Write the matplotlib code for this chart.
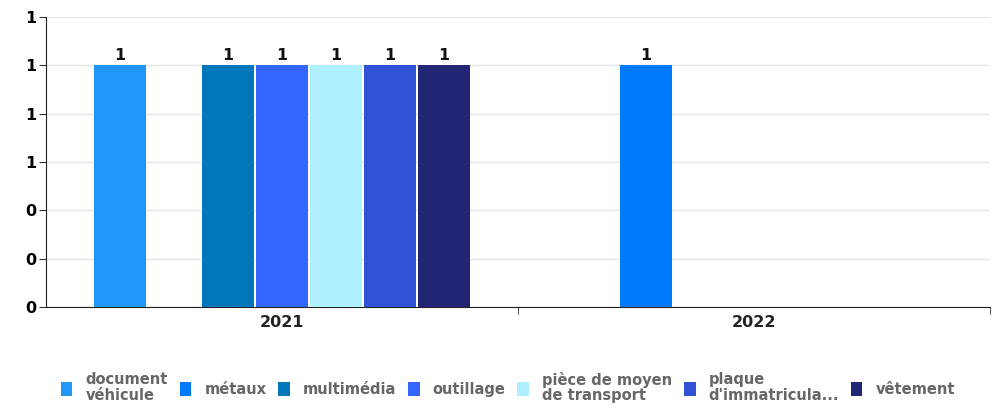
import matplotlib.pyplot as plt
import numpy as np
from matplotlib.ticker import FormatStrFormatter, FixedLocator

# data
years = ['2021', '2022']
series = ['document\nvéhicule', 'métaux', 'multimédia', 'outillage',
          'pièce de moyen\nde transport', "plaque\nd'immatricula...", 'vêtement']
values = [
    [1, 0],  # document véhicule
    [0, 1],  # métaux
    [1, 0],  # multimédia
    [1, 0],  # outillage
    [1, 0],  # pièce de moyen de transport
    [1, 0],  # plaque d'immatriculation
    [1, 0],  # vêtement
]
colors = ['#2196F9', '#0079FA', '#0277BB', '#3366FF', '#AEF0FF', '#2F52D6', '#232674']

fig = plt.figure(figsize=(9.96, 4.08), dpi=100)
ax = fig.add_axes([0.046, 0.248, 0.948, 0.71])

x = np.arange(len(years))
n = len(series)
w = 0.8 / n
for i, (name, vals) in enumerate(zip(series, values)):
    pos = x - 0.4 + w * (i + 0.5)
    bars = ax.bar(pos, vals, width=w * 0.97, color=colors[i], label=name, zorder=3)
    for b, v in zip(bars, vals):
        if v > 0:
            ax.text(b.get_x() + b.get_width() / 2, v + 0.012, str(v), ha='center', va='bottom',
                    fontsize=11.5, fontweight='bold', color='#111')

ax.set_xlim(-0.5, 1.5)
ax.set_ylim(0, 1.2)
ax.set_yticks(np.arange(0, 1.21, 0.2))
ax.yaxis.set_major_formatter(FormatStrFormatter('%.0f'))
ax.yaxis.grid(True, color='#e6e6e6', linewidth=1, zorder=0)
ax.set_xticks(x)
ax.set_xticklabels(years, fontsize=11.5, fontweight='bold', color='#222')
ax.xaxis.set_minor_locator(FixedLocator([0.5, 1.5]))
ax.tick_params(axis='x', which='major', length=0, pad=6)
ax.tick_params(axis='x', which='minor', length=5, direction='out', color='#333')
ax.tick_params(axis='y', length=5, color='#333', labelsize=11.5, pad=2)
for lab in ax.get_yticklabels():
    lab.set_fontweight('bold')
for s in ['top', 'right']:
    ax.spines[s].set_visible(False)
ax.spines['left'].set_color('#222')
ax.spines['bottom'].set_color('#222')

leg = fig.legend(loc='center', bbox_to_anchor=(0.51, 0.05), ncol=7, frameon=False,
                 handlelength=0.8, handleheight=1.1, handletextpad=0.9, columnspacing=0.8,
                 prop={'family': 'DejaVu Sans Condensed', 'size': 10.5, 'weight': 'bold'})
for t in leg.get_texts():
    t.set_color('#666')
    t.set_linespacing(1.05)

fig.savefig('out.png', dpi=100)
